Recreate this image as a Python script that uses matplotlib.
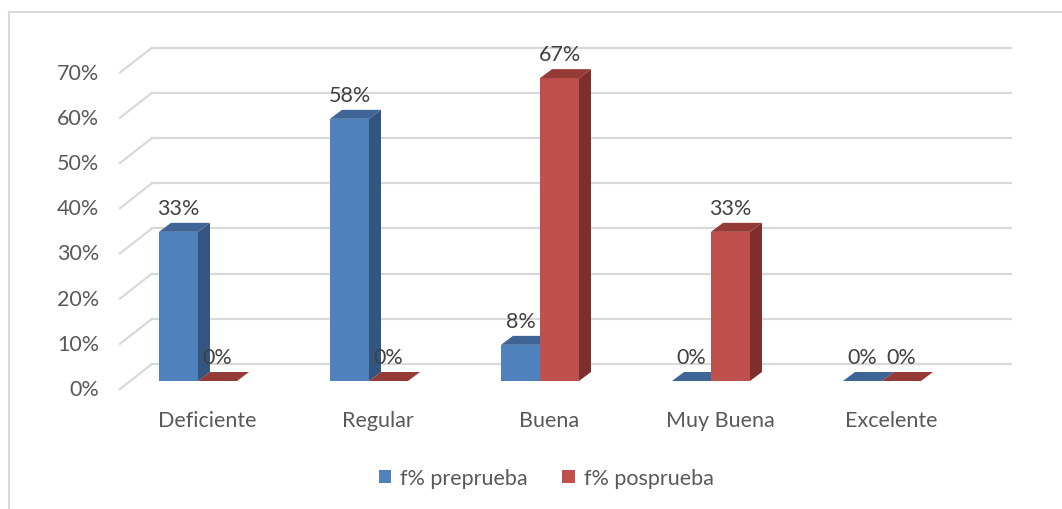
import matplotlib.pyplot as plt
from matplotlib.patches import Polygon
from matplotlib.lines import Line2D

categories = ["Deficiente", "Regular", "Buena", "Muy Buena", "Excelente"]
preprueba = [33, 58, 8, 0, 0]
posprueba = [0, 0, 67, 33, 0]
series_names = ["f% preprueba", "f% posprueba"]
yticks = [0, 10, 20, 30, 40, 50, 60, 70]

plt.rcParams['font.family'] = ['Lato', 'DejaVu Sans']

W, H = 1062, 510
PX_CAT = 171.0   # pixels per category
PX_PCT = 4.52    # pixels per percent
X0_PX, Y0_PX = 198.0, 382.0

fig = plt.figure(figsize=(W / 100, H / 100), dpi=100)
ax = fig.add_axes([0, 0, 1, 1])
ax.set_xlim(-X0_PX / PX_CAT, (W - X0_PX) / PX_CAT)
ax.set_ylim((Y0_PX - H) / PX_PCT, Y0_PX / PX_PCT)
ax.axis('off')

# chart frame
fcol = '#d9d9d9'
fig.add_artist(Line2D([8.5 / W, 1], [1 - 13 / H] * 2, color=fcol, lw=1.5))
fig.add_artist(Line2D([8.5 / W] * 2, [0, 1 - 13 / H], color=fcol, lw=1.5))

# 3d geometry (in data units)
BW = 39 / PX_CAT          # bar width
DX, DY = 12 / PX_CAT, 9 / PX_PCT   # bar depth
WALL_X0, WALL_X1 = (152 - X0_PX) / PX_CAT, (1011 - X0_PX) / PX_CAT
WALL_DY = 17 / PX_PCT
FRONT_X0, FRONT_DY = (120 - X0_PX) / PX_CAT, 8 / PX_PCT

grid = '#d9d9d9'
for t in yticks:
    ax.plot([WALL_X0, WALL_X1], [t + WALL_DY] * 2, color=grid, lw=1.6, zorder=1)
    ax.plot([FRONT_X0, WALL_X0], [t - FRONT_DY, t + WALL_DY], color=grid, lw=1.6, zorder=1)
    ax.text((99 - X0_PX) / PX_CAT, t - FRONT_DY, f"{t}%", ha='right', va='center',
            fontsize=15.5, color='#595959')

colors = [('#4f81bd', '#34557f', '#3e6596'), ('#c0504d', '#7f302e', '#943a37')]
z = 2


def bar3d(x0, v, cols, label=None):
    global z
    front, side, top = cols
    b = ax.bar(x0, v, width=BW, align='edge', color=front, zorder=z, label=label)
    ax.add_patch(Polygon([(x0 + BW, 0), (x0 + BW + DX, DY), (x0 + BW + DX, v + DY), (x0 + BW, v)],
                         closed=True, color=side, zorder=z + 1, lw=0))
    ax.add_patch(Polygon([(x0, v), (x0 + BW, v), (x0 + BW + DX, v + DY), (x0 + DX, v + DY)],
                         closed=True, color=top, zorder=z + 1, lw=0))
    z += 2
    ax.text(x0 + BW / 2, v + 5.3, f"{v}%", ha='center', va='center', fontsize=15.5,
            color='#404040', zorder=50)
    return b


handles = []
for i, cat in enumerate(categories):
    h1 = bar3d(i - BW, preprueba[i], colors[0], series_names[0] if i == 0 else None)
    h2 = bar3d(i, posprueba[i], colors[1], series_names[1] if i == 0 else None)
    if i == 0:
        handles = [h1, h2]
    ax.text(i + 9 / PX_CAT, (Y0_PX - 421) / PX_PCT, cat, ha='center', va='center',
            fontsize=15.5, color='#595959')

fig.legend(handles, series_names, loc='center', bbox_to_anchor=(546 / W, 1 - 479 / H),
           ncol=2, frameon=False, fontsize=15.5, handlelength=0.6, handleheight=0.6,
           handletextpad=0.4, columnspacing=1.6, labelcolor='#595959')

fig.savefig('out.png', dpi=100)
